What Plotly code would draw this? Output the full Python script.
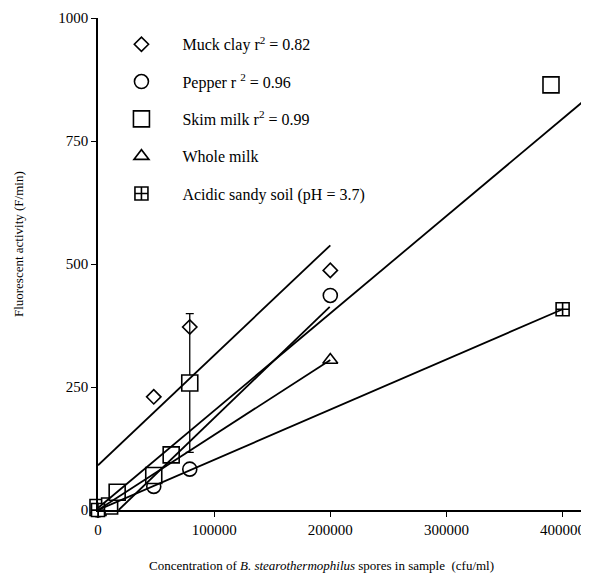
import plotly.graph_objects as go

# ---- data ----
muck_x = [0, 48000, 79000, 200000]
muck_y = [0, 230, 372, 487]

pepper_x = [0, 48000, 79000, 200000]
pepper_y = [0, 48, 83, 436]

skim_x = [0, 10000, 16500, 48000, 63000, 79000, 390000]
skim_y = [5, 8, 36, 70, 112, 258, 864]
skim_err = [0, 0, 0, 0, 0, 141, 0]

whole_x = [0, 200000]
whole_y = [0, 305]

sandy_x = [0, 400000]
sandy_y = [0, 408]

# fitted lines (end points)
muck_fit_x = [0, 200000]
muck_fit_y = [91, 538]
pepper_fit_x = [17800, 199500]
pepper_fit_y = [0, 413]
skim_fit_x = [0, 420500]
skim_fit_y = [4, 836]
whole_fit_x = [0, 200000]
whole_fit_y = [0, 305]
sandy_fit_x = [0, 400000]
sandy_fit_y = [0, 408]

names = ["Muck clay r<sup>2</sup> = 0.82",
         "Pepper r <sup>2</sup> = 0.96",
         "Skim milk r<sup>2</sup> = 0.99",
         "Whole milk",
         "Acidic sandy soil (pH = 3.7)"]

x_ticks = [0, 100000, 200000, 300000, 400000]
y_ticks = [0, 250, 500, 750, 1000]

FONT = "Liberation Serif, Times New Roman, serif"

fig = go.Figure()

def mk(symbol, size):
    return dict(symbol=symbol, size=size, color="white",
                line=dict(color="black", width=1.6))

fig.add_trace(go.Scatter(x=muck_x, y=muck_y, mode="markers", name=names[0],
                         legendgroup="a", marker=mk("diamond", 11), cliponaxis=False))
fig.add_trace(go.Scatter(x=pepper_x, y=pepper_y, mode="markers", name=names[1],
                         legendgroup="b", marker=mk("circle", 14), cliponaxis=False))
fig.add_trace(go.Scatter(x=skim_x, y=skim_y, mode="markers", name=names[2],
                         legendgroup="c", marker=mk("square", 16), cliponaxis=False,
                         error_y=dict(type="data", array=skim_err, visible=True,
                                      color="black", thickness=1.3, width=4)))
fig.add_trace(go.Scatter(x=whole_x, y=whole_y, mode="markers", name=names[3],
                         legendgroup="d", marker=mk("triangle-up", 13), cliponaxis=False))
fig.add_trace(go.Scatter(x=sandy_x, y=sandy_y, mode="markers", name=names[4],
                         legendgroup="e", marker=mk("square-cross", 13), cliponaxis=False))

for fx, fy in [(muck_fit_x, muck_fit_y), (pepper_fit_x, pepper_fit_y),
               (skim_fit_x, skim_fit_y), (whole_fit_x, whole_fit_y),
               (sandy_fit_x, sandy_fit_y)]:
    fig.add_trace(go.Scatter(x=fx, y=fy, mode="lines", showlegend=False,
                             line=dict(color="black", width=1.8), cliponaxis=False,
                             hoverinfo="skip"))

fig.update_layout(
    width=581, height=573,
    margin=dict(l=89.5, r=2, t=10, b=71, autoexpand=False),
    paper_bgcolor="white", plot_bgcolor="white",
    font=dict(family=FONT, color="black", size=15),
    showlegend=True,
    legend=dict(x=0.005, y=0.981, xanchor="left", yanchor="top",
                font=dict(family=FONT, size=16), itemwidth=72,
                tracegroupgap=13.5, bgcolor="rgba(0,0,0,0)"),
    xaxis=dict(range=[0, 421000], tickvals=x_ticks,
               ticktext=[str(v) for v in x_ticks], automargin=False,
               showgrid=False, zeroline=False, showline=True,
               linecolor="black", linewidth=1.5, ticks="outside",
               ticklen=5, tickwidth=1.3, tickcolor="black",
               tickfont=dict(family=FONT, size=15)),
    yaxis=dict(range=[0, 1000], tickvals=y_ticks,
               ticktext=[str(v) for v in y_ticks], automargin=False,
               showgrid=False, zeroline=False, showline=True,
               linecolor="black", linewidth=1.5, ticks="outside",
               ticklen=5, tickwidth=1.3, tickcolor="black",
               tickfont=dict(family=FONT, size=15)),
    annotations=[
        dict(text="Concentration of <i>B. stearothermophilus</i> spores in sample  (cfu/ml)",
             xref="paper", yref="paper", x=0.457, y=-0.112, xanchor="center",
             yanchor="middle", showarrow=False, font=dict(family=FONT, size=13)),
        dict(text="Fluorescent activity (F/min)", textangle=-90,
             xref="paper", yref="paper", x=-0.162, y=0.54, xanchor="center",
             yanchor="middle", showarrow=False, font=dict(family=FONT, size=13)),
    ],
)

fig.write_html("out.html")
